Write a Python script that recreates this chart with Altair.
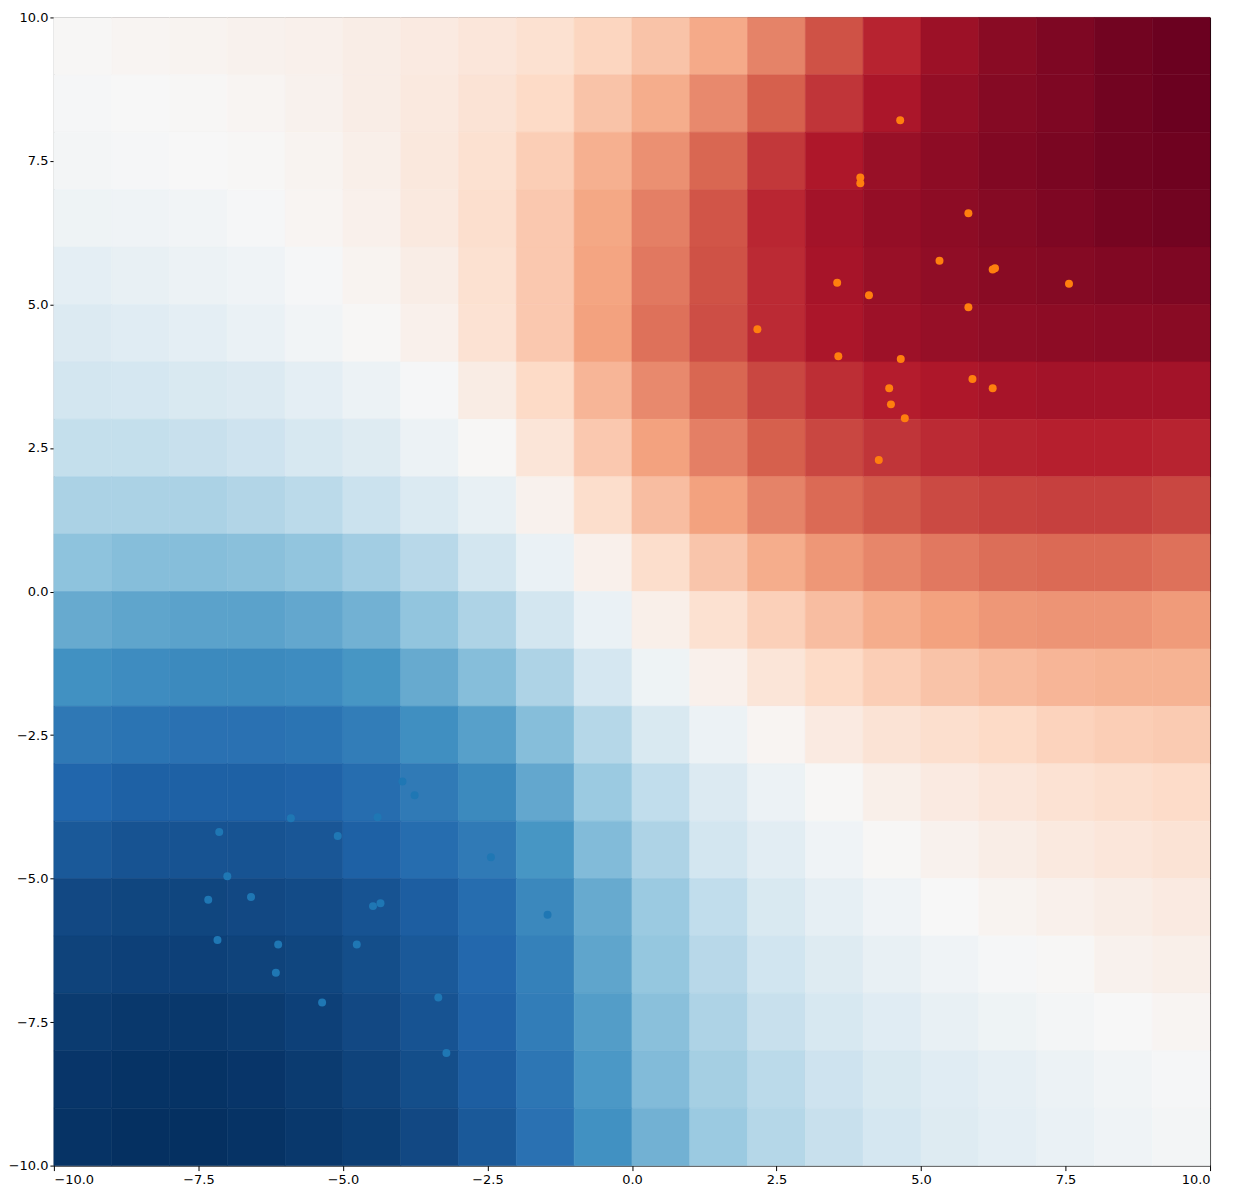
import altair as alt
import pandas as pd

# ---- scatter points ----
blue_x = [-3.97, -3.76, -5.90, -4.40, -7.14, -5.09, -2.44, -7.00, -7.33, -6.59,
          -4.48, -4.35, -1.46, -7.17, -6.12, -4.76, -6.16, -5.36, -3.35, -3.21]
blue_y = [-3.31, -3.55, -3.95, -3.93, -4.19, -4.26, -4.63, -4.96, -5.37, -5.32,
          -5.48, -5.43, -5.63, -6.07, -6.15, -6.15, -6.64, -7.16, -7.07, -8.04]
orange_x = [4.64, 3.95, 3.95, 5.82, 5.32, 6.24, 6.28, 3.55, 7.56, 4.10,
            5.82, 2.17, 3.57, 4.65, 5.89, 4.45, 6.24, 4.48, 4.72, 4.27]
orange_y = [8.21, 7.21, 7.11, 6.59, 5.76, 5.61, 5.63, 5.38, 5.36, 5.16,
            4.95, 4.57, 4.10, 4.05, 3.70, 3.54, 3.54, 3.26, 3.02, 2.29]

# ---- background field, estimated cell by cell (cell centres) ----
cell_x = [-9.5, -8.5, -7.5, -6.5, -5.5, -4.5, -3.5, -2.5, -1.5, -0.5,
          0.5, 1.5, 2.5, 3.5, 4.5, 5.5, 6.5, 7.5, 8.5, 9.5]
cell_y = [9.5, 8.5, 7.5, 6.5, 5.5, 4.5, 3.5, 2.5, 1.5, 0.5,
          -0.5, -1.5, -2.5, -3.5, -4.5, -5.5, -6.5, -7.5, -8.5, -9.5]

row_p95 = [0.01, 0.02, 0.03, 0.04, 0.05, 0.07, 0.09, 0.12, 0.16, 0.22, 0.29, 0.38, 0.50, 0.64, 0.77, 0.86, 0.91, 0.94, 0.97, 0.99]
row_p85 = [-0.01, 0.00, 0.01, 0.02, 0.04, 0.07, 0.10, 0.14, 0.20, 0.29, 0.37, 0.48, 0.60, 0.72, 0.82, 0.88, 0.92, 0.94, 0.97, 0.99]
row_p75 = [-0.02, -0.01, 0.00, 0.01, 0.03, 0.06, 0.11, 0.16, 0.25, 0.36, 0.46, 0.58, 0.71, 0.81, 0.87, 0.90, 0.93, 0.95, 0.97, 0.98]
row_p65 = [-0.05, -0.04, -0.03, -0.01, 0.02, 0.05, 0.10, 0.17, 0.27, 0.39, 0.51, 0.63, 0.76, 0.84, 0.88, 0.90, 0.92, 0.94, 0.96, 0.97]
row_p55 = [-0.10, -0.08, -0.06, -0.04, -0.01, 0.03, 0.07, 0.16, 0.27, 0.40, 0.53, 0.64, 0.75, 0.83, 0.87, 0.89, 0.91, 0.92, 0.93, 0.94]
row_p45 = [-0.14, -0.12, -0.10, -0.07, -0.03, 0.01, 0.05, 0.15, 0.27, 0.41, 0.55, 0.65, 0.75, 0.82, 0.855, 0.875, 0.89, 0.90, 0.905, 0.91]
row_p35 = [-0.19, -0.18, -0.16, -0.14, -0.10, -0.06, -0.01, 0.08, 0.20, 0.34, 0.48, 0.58, 0.67, 0.74, 0.79, 0.81, 0.83, 0.84, 0.84, 0.84]
row_p25 = [-0.24, -0.24, -0.23, -0.21, -0.17, -0.13, -0.06, 0.01, 0.13, 0.27, 0.41, 0.51, 0.60, 0.67, 0.72, 0.75, 0.77, 0.78, 0.78, 0.77]
row_p15 = [-0.32, -0.32, -0.32, -0.30, -0.27, -0.22, -0.15, -0.08, 0.04, 0.18, 0.31, 0.41, 0.50, 0.57, 0.62, 0.66, 0.68, 0.69, 0.69, 0.67]
row_p05 = [-0.41, -0.43, -0.43, -0.42, -0.40, -0.35, -0.28, -0.19, -0.07, 0.05, 0.18, 0.28, 0.37, 0.44, 0.49, 0.53, 0.56, 0.57, 0.57, 0.55]
row_m05 = [-0.51, -0.53, -0.54, -0.54, -0.52, -0.48, -0.40, -0.31, -0.19, -0.07, 0.06, 0.16, 0.24, 0.31, 0.37, 0.41, 0.44, 0.45, 0.45, 0.43]
row_m15 = [-0.61, -0.63, -0.64, -0.64, -0.63, -0.59, -0.51, -0.43, -0.31, -0.18, -0.05, 0.05, 0.13, 0.20, 0.25, 0.29, 0.32, 0.34, 0.35, 0.35]
row_m25 = [-0.72, -0.74, -0.75, -0.75, -0.74, -0.70, -0.62, -0.55, -0.43, -0.29, -0.16, -0.06, 0.02, 0.09, 0.14, 0.17, 0.20, 0.23, 0.25, 0.26]
row_m35 = [-0.80, -0.82, -0.82, -0.82, -0.81, -0.77, -0.71, -0.64, -0.52, -0.37, -0.25, -0.14, -0.06, 0.01, 0.06, 0.09, 0.12, 0.15, 0.17, 0.19]
row_m45 = [-0.85, -0.87, -0.87, -0.87, -0.86, -0.82, -0.77, -0.71, -0.59, -0.44, -0.31, -0.19, -0.11, -0.04, 0.01, 0.04, 0.07, 0.10, 0.12, 0.14]
row_m55 = [-0.91, -0.92, -0.92, -0.91, -0.90, -0.87, -0.83, -0.77, -0.65, -0.51, -0.37, -0.25, -0.16, -0.09, -0.04, 0.00, 0.03, 0.05, 0.07, 0.09]
row_m65 = [-0.93, -0.94, -0.94, -0.93, -0.92, -0.89, -0.85, -0.79, -0.68, -0.53, -0.39, -0.28, -0.20, -0.13, -0.08, -0.04, -0.01, 0.01, 0.04, 0.06]
row_m75 = [-0.96, -0.97, -0.97, -0.96, -0.94, -0.91, -0.87, -0.81, -0.70, -0.56, -0.42, -0.31, -0.23, -0.17, -0.12, -0.08, -0.05, -0.02, 0.00, 0.02]
row_m85 = [-0.98, -0.99, -0.99, -0.98, -0.96, -0.93, -0.89, -0.83, -0.73, -0.58, -0.44, -0.34, -0.27, -0.21, -0.16, -0.12, -0.09, -0.06, -0.03, -0.01]
row_m95 = [-0.99, -1.00, -1.00, -0.99, -0.97, -0.95, -0.91, -0.85, -0.75, -0.61, -0.48, -0.37, -0.29, -0.23, -0.18, -0.13, -0.10, -0.07, -0.04, -0.02]

field_rows = [row_p95, row_p85, row_p75, row_p65, row_p55, row_p45, row_p35,
              row_p25, row_p15, row_p05, row_m05, row_m15, row_m25, row_m35,
              row_m45, row_m55, row_m65, row_m75, row_m85, row_m95]

tick_vals = [-10, -7.5, -5, -2.5, 0, 2.5, 5, 7.5, 10]

# RdBu_r colour stops
cmap_domain = [-1.0, -0.8, -0.6, -0.4, -0.2, 0.0, 0.2, 0.4, 0.6, 0.8, 1.0]
cmap_colors = ["#053061", "#2166ac", "#4393c3", "#92c5de", "#d1e5f0", "#f7f7f7",
               "#fddbc7", "#f4a582", "#d6604d", "#b2182b", "#67001f"]

half = 0.5
cells = []
for yc, row in zip(cell_y, field_rows):
    for xc, v in zip(cell_x, row):
        cells.append({"x0": xc - half, "x1": xc + half,
                      "y0": yc - half, "y1": yc + half, "v": v})
cells_df = pd.DataFrame(cells)

pts_df = pd.DataFrame(
    [{"x": a, "y": b, "cls": "blue"} for a, b in zip(blue_x, blue_y)]
    + [{"x": a, "y": b, "cls": "orange"} for a, b in zip(orange_x, orange_y)]
)

xscale = alt.Scale(domain=[-10, 10], nice=False, zero=False)
yscale = alt.Scale(domain=[-10, 10], nice=False, zero=False)
cscale = alt.Scale(domain=cmap_domain, range=cmap_colors, interpolate="rgb")

label_expr = "replace(format(datum.value, '.1f'), '-', '\u2212')"
xaxis = alt.Axis(values=tick_vals, labelExpr=label_expr, title=None, grid=False,
                 tickSize=5, labelPadding=3)
yaxis = alt.Axis(values=tick_vals, labelExpr=label_expr, title=None, grid=False,
                 tickSize=4, labelPadding=2)

heat = alt.Chart(cells_df).mark_rect(strokeWidth=0.6).encode(
    x=alt.X("x0:Q", scale=xscale, axis=xaxis),
    x2="x1:Q",
    y=alt.Y("y0:Q", scale=yscale, axis=yaxis),
    y2="y1:Q",
    color=alt.Color("v:Q", scale=cscale, legend=None),
    stroke=alt.Stroke("v:Q", scale=cscale, legend=None),
)

pts = alt.Chart(pts_df).mark_circle(size=64, opacity=1).encode(
    x=alt.X("x:Q", scale=xscale),
    y=alt.Y("y:Q", scale=yscale),
    fill=alt.Fill("cls:N", scale=alt.Scale(domain=["blue", "orange"],
                                           range=["#1f77b4", "#ff7f0e"]),
                  legend=None),
)

chart = alt.layer(heat, pts).resolve_scale(color="independent").properties(
    width=1159,
    height=1151,
    autosize=alt.AutoSizeParams(type="none"),
    padding={"left": 46, "top": 8, "right": 16, "bottom": 24},
).configure_view(
    stroke="black", strokeWidth=1
).configure_axis(
    domain=False,
    tickColor="black",
    labelColor="black",
    labelFont="DejaVu Sans",
    labelFontSize=13,
)

chart.save("out.html", embed_options={"renderer": "svg", "actions": False})
